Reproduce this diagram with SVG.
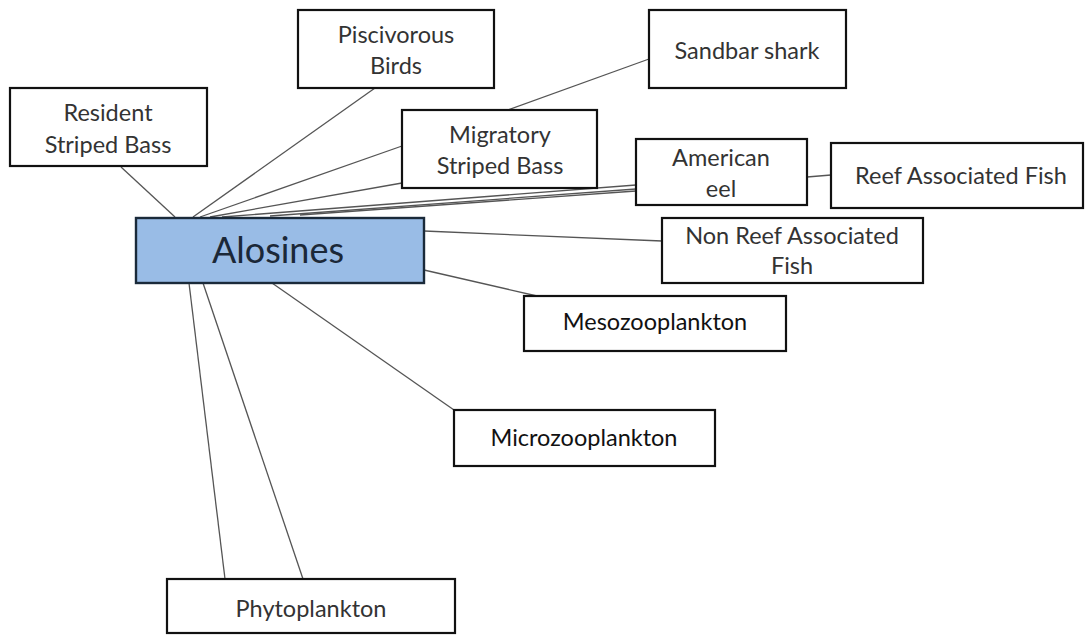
<svg xmlns="http://www.w3.org/2000/svg" width="1085" height="635" viewBox="0 0 1085 635">
<style>
.box{fill:#fff;stroke:#111;stroke-width:2.2}
.main{fill:#99bce6;stroke:#1a2a3a;stroke-width:2.4}
.t{font-family:Lato,"Open Sans","Liberation Sans",sans-serif;font-size:23.5px;fill:#333;text-anchor:middle}
.tm{font-family:Lato,"Open Sans","Liberation Sans",sans-serif;font-size:36px;fill:#1b2838;text-anchor:middle}
.c{stroke:#555;stroke-width:1.3;fill:none}
</style>
<rect width="1085" height="635" fill="#fff"/>
<g id="connectors">
<line class="c" x1="121" y1="167" x2="175" y2="217"/>
<line class="c" x1="375" y1="88" x2="193" y2="217"/>
<line class="c" x1="402" y1="146" x2="200" y2="217"/>
<line class="c" x1="402" y1="183" x2="210" y2="217"/>
<line class="c" x1="649" y1="59" x2="508" y2="110"/>
<line class="c" x1="222" y1="217" x2="636" y2="185"/>
<line class="c" x1="270" y1="216" x2="636" y2="189"/>
<line class="c" x1="300" y1="215" x2="636" y2="191"/>
<line class="c" x1="807" y1="177" x2="831" y2="175"/>
<line class="c" x1="424" y1="231" x2="662" y2="241"/>
<line class="c" x1="424" y1="270" x2="537" y2="296"/>
<line class="c" x1="272" y1="283" x2="454" y2="410"/>
<line class="c" x1="189" y1="283" x2="225" y2="579"/>
<line class="c" x1="203" y1="283" x2="303" y2="579"/>
</g>
<g id="alosines"><rect class="main" x="136" y="218" width="288" height="65"/><text class="tm" x="278" y="263">Alosines</text></g>
<g id="resident"><rect class="box" x="10" y="88" width="197" height="78"/><text class="t" x="108" y="121">Resident</text><text class="t" x="108" y="153">Striped Bass</text></g>
<g id="piscivorous"><rect class="box" x="298" y="10" width="196" height="78"/><text class="t" x="396" y="43">Piscivorous</text><text class="t" x="396" y="74">Birds</text></g>
<g id="sandbar"><rect class="box" x="649" y="10" width="197" height="78"/><text class="t" x="747" y="59">Sandbar shark</text></g>
<g id="migratory"><rect class="box" x="402" y="110" width="195" height="78"/><text class="t" x="500" y="143">Migratory</text><text class="t" x="500" y="174">Striped Bass</text></g>
<g id="eel"><rect class="box" x="636" y="139" width="171" height="66"/><text class="t" x="721" y="166">American</text><text class="t" x="721" y="197">eel</text></g>
<g id="reef"><rect class="box" x="831" y="143" width="252" height="65"/><text class="t" x="961" y="184">Reef Associated Fish</text></g>
<g id="nonreef"><rect class="box" x="662" y="218" width="261" height="65"/><text class="t" x="792" y="244">Non Reef Associated</text><text class="t" x="792" y="274">Fish</text></g>
<g id="meso"><rect class="box" x="524" y="296" width="262" height="55"/><text class="t" x="655" y="330" style="fill:#111">Mesozooplankton</text></g>
<g id="micro"><rect class="box" x="454" y="410" width="261" height="56"/><text class="t" x="584" y="446" style="fill:#111">Microzooplankton</text></g>
<g id="phyto"><rect class="box" x="167" y="579" width="288" height="54"/><text class="t" x="311" y="617">Phytoplankton</text></g>
</svg>
